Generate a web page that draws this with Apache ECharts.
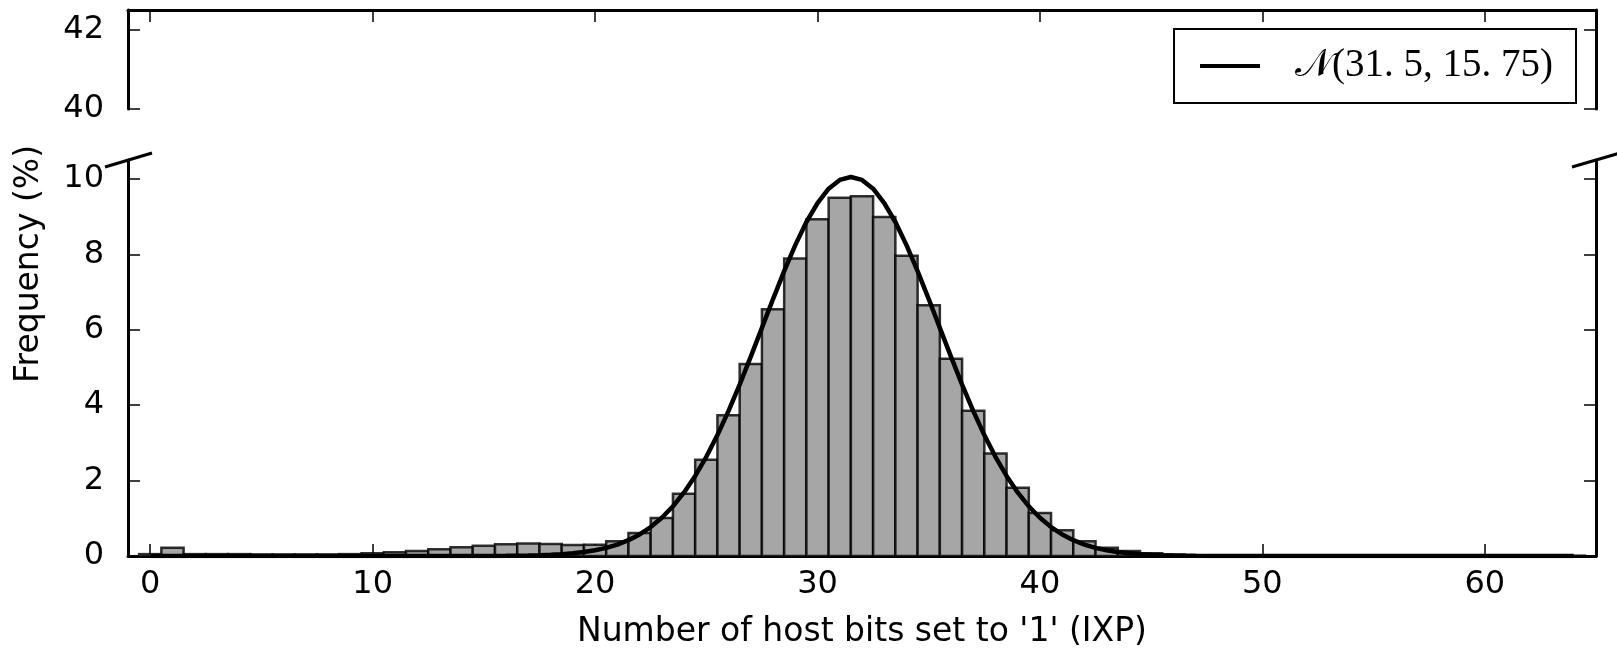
<!DOCTYPE html>
<html>
<head>
<meta charset="utf-8">
<script src="https://cdn.jsdelivr.net/npm/echarts@6/dist/echarts.min.js"></script>
<style>
html, body { margin: 0; padding: 0; background: #fff; }
#chart { width: 1617px; height: 654px; }
</style>
</head>
<body>
<div id="chart"></div>
<script>
// histogram bins (centre of each bin) and frequency in %
var bins = [0, 1, 2, 3, 4, 5, 6, 7, 8, 9, 10, 11, 12, 13, 14, 15, 16, 17, 18, 19, 20,
    21, 22, 23, 24, 25, 26, 27, 28, 29, 30, 31, 32, 33, 34, 35, 36, 37, 38, 39, 40,
    41, 42, 43, 44, 45, 46, 47, 48, 49, 50, 51, 52, 53, 54, 55, 56, 57, 58, 59, 60,
    61, 62, 63, 64];
var freq = [0.05, 0.22, 0.05, 0.05, 0.05, 0.04, 0.04, 0.04, 0.04, 0.05, 0.07,
    0.10, 0.13, 0.18, 0.23, 0.27, 0.31, 0.33, 0.32, 0.29, 0.30,
    0.39, 0.61, 1.01, 1.65, 2.55, 3.73, 5.09, 6.54, 7.89, 8.93,
    9.50, 9.54, 8.99, 7.96, 6.65, 5.23, 3.85, 2.72, 1.81, 1.14,
    0.68, 0.39, 0.22, 0.13, 0.07, 0.04, 0.02, 0.01, 0.01, 0.01,
    0.01, 0.01, 0.01, 0.01, 0.01, 0.01, 0.01, 0.01, 0.01, 0.01,
    0.01, 0.01, 0.01, 0.01];

// fitted normal curve
var curveX = [0, 15, 15.5, 16, 16.5, 17, 17.5, 18, 18.5, 19, 19.5, 20, 20.5, 21, 21.5,
    22, 22.5, 23, 23.5, 24, 24.5, 25, 25.5, 26, 26.5, 27, 27.5, 28, 28.5, 29, 29.5,
    30, 30.5, 31, 31.5, 32, 32.5, 33, 33.5, 34, 34.5, 35, 35.5, 36, 36.5, 37, 37.5,
    38, 38.5, 39, 39.5, 40, 40.5, 41, 41.5, 42, 42.5, 43, 43.5, 44, 44.5, 45, 45.5,
    46, 46.5, 47, 47.5, 48, 64];
var curveY = [0, 0.002, 0.003, 0.005, 0.008, 0.013, 0.020, 0.031, 0.047, 0.070, 0.104, 0.151, 0.216, 0.304, 0.420,
    0.573, 0.768, 1.014, 1.318, 1.686, 2.122, 2.629, 3.206, 3.848, 4.545, 5.285, 6.048, 6.813, 7.554, 8.243, 8.856,
    9.359, 9.739, 9.972, 10.05, 9.972, 9.739, 9.359, 8.856, 8.243, 7.554, 6.813, 6.048, 5.285, 4.545, 3.848, 3.206,
    2.629, 2.122, 1.686, 1.318, 1.014, 0.768, 0.573, 0.420, 0.304, 0.216, 0.151, 0.104, 0.070, 0.047, 0.031, 0.020,
    0.013, 0.008, 0.005, 0.003, 0.002, 0];

var xTicks = [0, 10, 20, 30, 40, 50, 60];
var yTicksLow = [0, 2, 4, 6, 8, 10];
var yTicksHigh = [40, 42];
var curveName = '𝒩(31. 5, 15. 75)';

var font = 'DejaVu Sans';
var spineStyle = { color: '#000', width: 3 };
var tickStyle = { color: '#000', width: 1.5 };

function xAxisOf(grid, pos, showLabels) {
    return {
        gridIndex: grid,
        type: 'value',
        min: -1,
        max: 65,
        position: pos,
        axisLine: { show: true, onZero: false, lineStyle: spineStyle },
        axisTick: { show: true, inside: true, length: 12, customValues: xTicks, lineStyle: tickStyle },
        axisLabel: { show: showLabels, customValues: xTicks, color: '#000', fontFamily: font, fontSize: 32, margin: 13 },
        splitLine: { show: false }
    };
}

function yAxisOf(grid, pos, min, max, ticks, showLabels) {
    return {
        gridIndex: grid,
        type: 'value',
        min: min,
        max: max,
        position: pos,
        axisLine: { show: true, onZero: false, lineStyle: spineStyle },
        axisTick: { show: true, inside: true, length: 12, customValues: ticks, lineStyle: tickStyle },
        axisLabel: { show: showLabels, customValues: ticks, color: '#000', fontFamily: font, fontSize: 32, margin: 24 },
        splitLine: { show: false }
    };
}

var xAxisBottom = xAxisOf(1, 'bottom', true);
xAxisBottom.name = "Number of host bits set to '1' (IXP)";
xAxisBottom.nameLocation = 'middle';
xAxisBottom.nameGap = 60;
xAxisBottom.nameTextStyle = { color: '#000', fontFamily: font, fontSize: 33 };

var myChart = echarts.init(document.getElementById('chart'));
myChart.setOption({
    animation: false,
    backgroundColor: '#fff',
    grid: [
        { left: 128, right: 21, top: 10, height: 99 },
        { left: 128, right: 21, top: 160, height: 399 }
    ],
    xAxis: [
        xAxisOf(0, 'top', false),
        xAxisBottom
    ],
    yAxis: [
        yAxisOf(0, 'left', 40, 42.5, yTicksHigh, true),
        yAxisOf(0, 'right', 40, 42.5, yTicksHigh, false),
        yAxisOf(1, 'left', 0, 10.5, yTicksLow, true),
        yAxisOf(1, 'right', 0, 10.5, yTicksLow, false)
    ],
    legend: {
        data: [{ name: curveName, icon: 'rect' }],
        selectedMode: false,
        right: 41,
        top: 29,
        padding: [15, 23, 15, 26],
        itemWidth: 60,
        itemHeight: 4,
        borderColor: '#000',
        borderWidth: 2,
        backgroundColor: '#fff',
        textStyle: { color: '#000', fontFamily: 'Liberation Serif', fontSize: 39, lineHeight: 44, padding: [0, 0, 0, 30] }
    },
    graphic: [
        // axis break marks
        { type: 'line', shape: { x1: 105, y1: 167, x2: 152, y2: 153 }, style: { stroke: '#000', lineWidth: 3 } },
        { type: 'line', shape: { x1: 1572, y1: 167, x2: 1620, y2: 153 }, style: { stroke: '#000', lineWidth: 3 } },
        {
            type: 'text', x: 29, y: 264, rotation: Math.PI / 2,
            style: { text: 'Frequency (%)', font: '33px "DejaVu Sans"', fill: '#000', align: 'center', verticalAlign: 'middle' }
        }
    ],
    series: [
        {
            type: 'custom',
            xAxisIndex: 1,
            yAxisIndex: 2,
            data: bins.map(function (b, i) { return [b, freq[i]]; }),
            renderItem: function (params, api) {
                var x = api.value(0);
                var p0 = api.coord([x - 0.5, api.value(1)]);
                var p1 = api.coord([x + 0.5, 0]);
                return {
                    type: 'rect',
                    shape: { x: p0[0], y: p0[1], width: p1[0] - p0[0], height: p1[1] - p0[1] },
                    style: { fill: '#a6a6a6', stroke: 'rgba(0,0,0,0.8)', lineWidth: 2.5 }
                };
            },
            z: 2
        },
        {
            type: 'line',
            name: curveName,
            xAxisIndex: 1,
            yAxisIndex: 2,
            data: curveX.map(function (x, i) { return [x, curveY[i]]; }),
            showSymbol: false,
            itemStyle: { color: '#000' },
            lineStyle: { color: '#000', width: 4.5 },
            z: 3
        }
    ]
});
window.addEventListener('resize', function () {
    myChart.resize();
});
</script>
</body>
</html>
